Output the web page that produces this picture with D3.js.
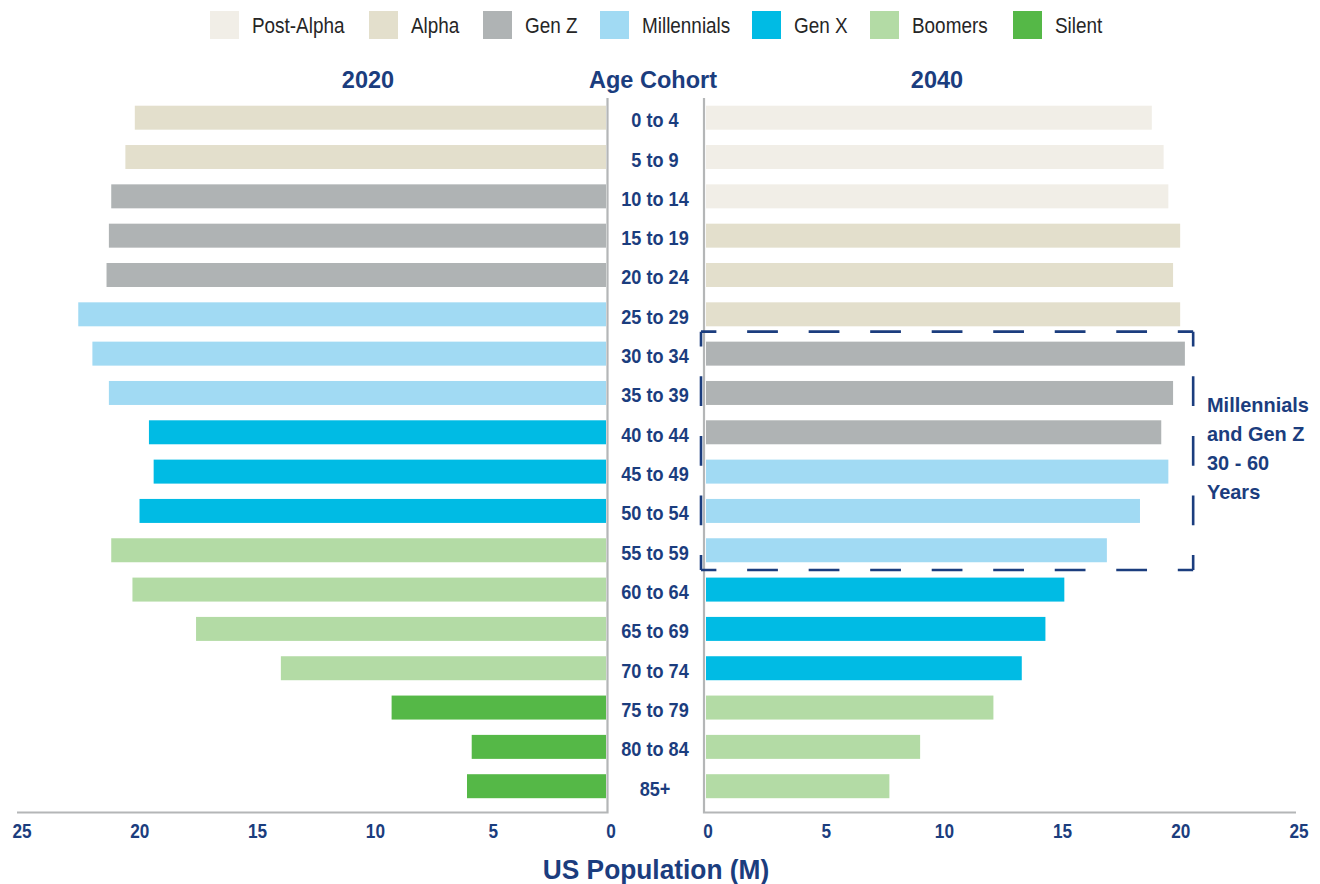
<!DOCTYPE html>
<html>
<head>
<meta charset="utf-8">
<script src="https://cdn.jsdelivr.net/npm/d3@7"></script>
<style>
  html, body { margin: 0; padding: 0; background: #ffffff; }
  svg { display: block; }
  text { font-family: "Liberation Sans", Arial, Helvetica, sans-serif; }
</style>
</head>
<body>
<svg id="chart" width="1320" height="884"></svg>
<script>
// Age cohorts, youngest first
const ageGroups = ["0 to 4", "5 to 9", "10 to 14", "15 to 19", "20 to 24", "25 to 29",
  "30 to 34", "35 to 39", "40 to 44", "45 to 49", "50 to 54", "55 to 59",
  "60 to 64", "65 to 69", "70 to 74", "75 to 79", "80 to 84", "85+"];

// US population by cohort, millions
const pop2020 = [20.0, 20.4, 21.0, 21.1, 21.2, 22.4, 21.8, 21.1, 19.4, 19.2, 19.8, 21.0,
  20.1, 17.4, 13.8, 9.1, 5.7, 5.9];
const pop2040 = [18.9, 19.4, 19.6, 20.1, 19.8, 20.1, 20.3, 19.8, 19.3, 19.6, 18.4, 17.0,
  15.2, 14.4, 13.4, 12.2, 9.1, 7.8];

// Generation each cohort belongs to in each year
const gen2020 = ["Alpha", "Alpha", "Gen Z", "Gen Z", "Gen Z", "Millennials", "Millennials",
  "Millennials", "Gen X", "Gen X", "Gen X", "Boomers", "Boomers", "Boomers", "Boomers",
  "Silent", "Silent", "Silent"];
const gen2040 = ["Post-Alpha", "Post-Alpha", "Post-Alpha", "Alpha", "Alpha", "Alpha",
  "Gen Z", "Gen Z", "Gen Z", "Millennials", "Millennials", "Millennials", "Gen X", "Gen X",
  "Gen X", "Boomers", "Boomers", "Boomers"];

const generations = ["Post-Alpha", "Alpha", "Gen Z", "Millennials", "Gen X", "Boomers", "Silent"];
const genColors = ["#f1eee7", "#e3dfcc", "#afb3b4", "#a1daf3", "#00bbe4", "#b3dba5", "#55b847"];

const tickValues = [0, 5, 10, 15, 20, 25];

const NAVY = "#1b3d7e";
const AXIS_GREY = "#b4b6b7";

const svg = d3.select("#chart");
const color = d3.scaleOrdinal().domain(generations).range(genColors);

const xL = d3.scaleLinear().domain([0, 25]).range([606, 17]);
const xR = d3.scaleLinear().domain([0, 25]).range([705, 1296]);
const y = d3.scaleBand().domain(ageGroups).range([105.7, 798.2]).paddingInner(0.39).paddingOuter(0);

// Text helper: narrow the face horizontally to get a condensed look
function label(parent, x, yPos, str, opts) {
  const o = Object.assign({ size: 20, weight: "bold", fill: NAVY, anchor: "start", sx: 1 }, opts);
  return parent.append("text")
    .attr("transform", `translate(${x},${yPos}) scale(${o.sx},1)`)
    .attr("font-size", o.size).attr("font-weight", o.weight)
    .attr("fill", o.fill).attr("text-anchor", o.anchor).text(str);
}

// Legend
const legendX = [210, 369, 483, 600, 752, 870, 1013];
const legend = svg.append("g");
generations.forEach((g, i) => {
  legend.append("rect").attr("x", legendX[i]).attr("y", 11).attr("width", 29).attr("height", 28)
    .attr("fill", color(g));
  label(legend, legendX[i] + 42, 33, g, { size: 22, weight: "normal", fill: "#262626", sx: 0.86 });
});

// Column headers
const headers = svg.append("g");
label(headers, 368, 88, "2020", { size: 23.5, anchor: "middle" });
label(headers, 653, 88, "Age Cohort", { size: 23.5, anchor: "middle" });
label(headers, 937, 88, "2040", { size: 23.5, anchor: "middle" });

// Bars
const rows = ageGroups.map((a, i) => ({ age: a, v20: pop2020[i], v40: pop2040[i], g20: gen2020[i], g40: gen2040[i] }));

svg.append("g").selectAll("rect").data(rows).join("rect")
  .attr("x", d => xL(d.v20)).attr("y", d => y(d.age))
  .attr("width", d => xL(0) - xL(d.v20)).attr("height", y.bandwidth())
  .attr("fill", d => color(d.g20));

svg.append("g").selectAll("rect").data(rows).join("rect")
  .attr("x", xR(0) + 1).attr("y", d => y(d.age))
  .attr("width", d => xR(d.v40) - xR(0) - 1).attr("height", y.bandwidth())
  .attr("fill", d => color(d.g40));

// Axis frame lines
const baseY = 812.5;
svg.append("path")
  .attr("d", `M${xL(25)},${baseY}H${xL(0) + 1.5}V98`)
  .attr("fill", "none").attr("stroke", AXIS_GREY).attr("stroke-width", 2.2);
svg.append("path")
  .attr("d", `M${xR(0) - 1},98V${baseY}H${xR(25)}`)
  .attr("fill", "none").attr("stroke", AXIS_GREY).attr("stroke-width", 2.2);

// Age labels
const ages = svg.append("g");
ageGroups.forEach(a => {
  label(ages, 655, y(a) + y.bandwidth() / 2 + 9.5, a, { size: 19.5, anchor: "middle", sx: 0.93 });
});

// Tick labels
const axisL = d3.axisBottom(xL).tickValues(tickValues).tickSize(0).tickPadding(0);
const axisR = d3.axisBottom(xR).tickValues(tickValues).tickSize(0).tickPadding(0);
function styleAxis(g, dx) {
  g.select(".domain").remove();
  g.selectAll("text")
    .attr("font-size", 20.5).attr("font-weight", "bold").attr("font-family", null)
    .attr("fill", NAVY).attr("dy", 0).attr("y", 0)
    .attr("transform", `translate(${dx},0) scale(0.84,1)`);
}
svg.append("g").attr("transform", "translate(0,838)").call(axisL).call(g => styleAxis(g, 4.5));
svg.append("g").attr("transform", "translate(0,838)").call(axisR).call(g => styleAxis(g, 2.5));

// Axis title
label(svg, 656, 879, "US Population (M)", { size: 28, anchor: "middle", sx: 0.94 });

// Dashed bracket around the 30–59 cohorts in 2040
const boxX0 = xR(0) - 4, boxX1 = xR(20.65);
const boxY0 = y("30 to 34") - 10, boxY1 = y("55 to 59") + y.bandwidth() + 7.7;
function dashedSide(x1, y1, x2, y2, n) {
  const len = Math.hypot(x2 - x1, y2 - y1);
  const dash = len / n / 2;
  svg.append("line").attr("x1", x1).attr("y1", y1).attr("x2", x2).attr("y2", y2)
    .attr("stroke", NAVY).attr("stroke-width", 2.6)
    .attr("stroke-dasharray", `${dash},${dash}`).attr("stroke-dashoffset", dash / 2);
}
dashedSide(boxX0, boxY0, boxX1, boxY0, 8);
dashedSide(boxX1, boxY0, boxX1, boxY1, 4);
dashedSide(boxX1, boxY1, boxX0, boxY1, 8);
dashedSide(boxX0, boxY1, boxX0, boxY0, 4);

// Bracket note
const note = ["Millennials", "and Gen Z", "30 - 60", "Years"];
const noteG = svg.append("g");
note.forEach((t, i) => label(noteG, 1207, 412 + i * 29, t, { size: 21, sx: 0.95 }));
</script>
</body>
</html>
